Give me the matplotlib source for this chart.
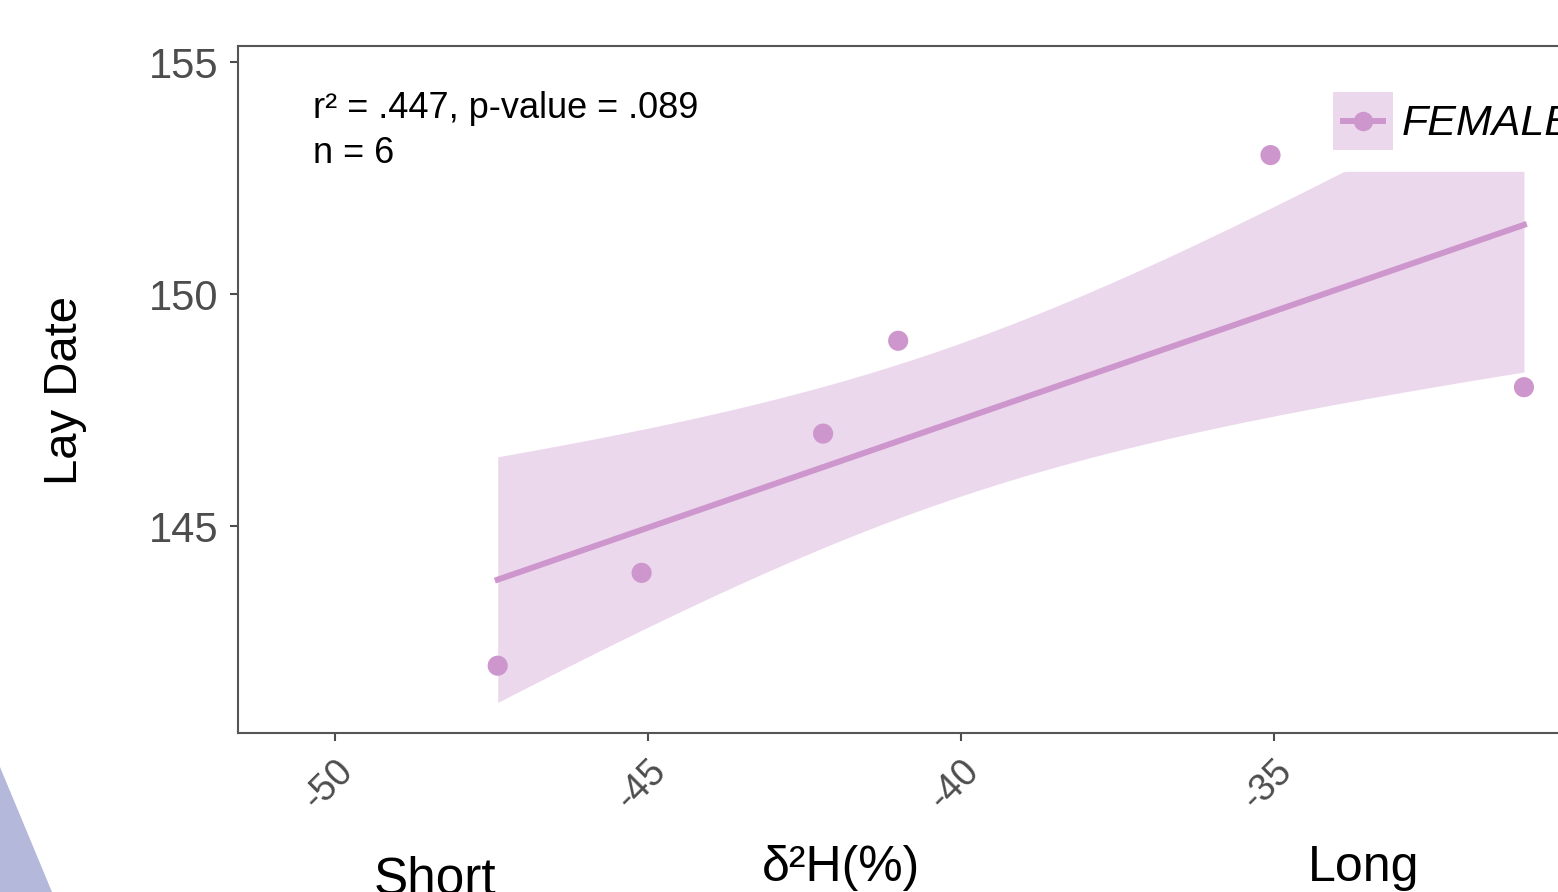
import numpy as np
import matplotlib
matplotlib.use('Agg')
from matplotlib import pyplot as plt
from matplotlib.patches import Rectangle, Polygon
from matplotlib.lines import Line2D

plt.rcParams['font.family'] = ['Liberation Sans', 'DejaVu Sans']

# data
d2h = np.array([-47.4, -45.1, -42.2, -41.0, -35.05, -31.0])
lay_date = np.array([142, 144, 147, 149, 153, 148])
ci_mult = 1.4        # band width multiplier matching the shaded ribbon
band_cap = 152.65    # ribbon is cut flat at the top
xticks = [-50, -45, -40, -35]
yticks = [145, 150, 155]

point_col = '#cd96cd'
band_col = '#ecd8ec'
axis_grey = '#4d4d4d'

# linear fit + confidence band
n = len(d2h)
slope, icept = np.polyfit(d2h, lay_date, 1)
resid = lay_date - (slope * d2h + icept)
s = np.sqrt(np.sum(resid ** 2) / (n - 2))
sxx = np.sum((d2h - d2h.mean()) ** 2)
xs = np.linspace(d2h.min(), d2h.max(), 200)
fit = slope * xs + icept
se = s * np.sqrt(1 / n + (xs - d2h.mean()) ** 2 / sxx)
lo = fit - ci_mult * se
hi = np.minimum(fit + ci_mult * se, band_cap)


# legend key: shaded square with a short line and a dot in the middle
class BandPointHandler:
    def legend_artist(self, legend, orig_handle, fontsize, handlebox):
        x0, y0 = -handlebox.xdescent, -handlebox.ydescent
        w, h = handlebox.width, handlebox.height
        tr = handlebox.get_transform()
        rect = Rectangle((x0, y0), w, h, facecolor=band_col, edgecolor='none', transform=tr)
        line = Line2D([x0 + 0.12 * w, x0 + 0.88 * w], [y0 + h / 2] * 2, color=point_col,
                      lw=4.3, solid_capstyle='butt', transform=tr)
        dot = Line2D([x0 + w / 2], [y0 + h / 2], marker='o', ms=14, ls='none',
                     color=point_col, markeredgewidth=0, transform=tr)
        for a in (rect, line, dot):
            handlebox.add_artist(a)
        return rect


fig = plt.figure(figsize=(15.58, 8.92), dpi=100)
ax = fig.add_axes([238 / 1558, 1 - 733 / 892, (1574 - 238) / 1558, (733 - 46) / 892])

ax.fill_between(xs, lo, hi, color=band_col, lw=0, zorder=1)
ax.plot(xs, fit, color=point_col, lw=4.3, zorder=2)
ax.scatter(d2h, lay_date, s=210, color=point_col, edgecolors='none', zorder=3)

ax.set_xlim(-51.55, -30.2)
ax.set_ylim(140.55, 155.35)
ax.set_xticks(xticks)
ax.set_yticks(yticks)
ax.set_xticklabels([str(t) for t in xticks], rotation=45, ha='right', va='top',
                   rotation_mode='anchor')
ax.tick_params(axis='both', colors=axis_grey, labelcolor=axis_grey, length=6, width=1.5)
ax.tick_params(axis='y', labelsize=30, pad=8)
ax.tick_params(axis='x', labelsize=27, pad=8)
for sp in ax.spines.values():
    sp.set_color('#555555')
    sp.set_linewidth(1.5)

ax.text(313 / 1558, 1 - 118 / 892, 'r² = .447, p-value = .089', transform=fig.transFigure,
        fontsize=26, va='baseline', ha='left')
ax.text(313 / 1558, 1 - 163 / 892, 'n = 6', transform=fig.transFigure,
        fontsize=26, va='baseline', ha='left')

fig.text(65 / 1558, 1 - 390 / 892, 'Lay Date', rotation=90, fontsize=34, ha='center', va='center')
fig.text(435 / 1558, -0.002, 'Short', fontsize=37, ha='center', va='baseline')
fig.text(841 / 1558, 0.012, 'δ²H(%)', fontsize=36, ha='center', va='baseline')
fig.text(1364 / 1558, 0.012, 'Long', fontsize=36, ha='center', va='baseline')

key = object()
fig.legend([key], ['FEMALE'], handler_map={key: BandPointHandler()},
           loc='upper left', bbox_to_anchor=(1333 / 1558, 1 - 92 / 892),
           frameon=False, borderpad=0, borderaxespad=0,
           handlelength=1.4, handleheight=1.7, handletextpad=0.2,
           prop={'size': 31, 'style': 'italic'})

fig.patches.append(Polygon([(0, 1 - 767 / 892), (52 / 1558, 0), (0, 0)],
                           closed=True, transform=fig.transFigure,
                           facecolor='#b4b9dc', edgecolor='none'))

fig.savefig('out.png', dpi=100)
